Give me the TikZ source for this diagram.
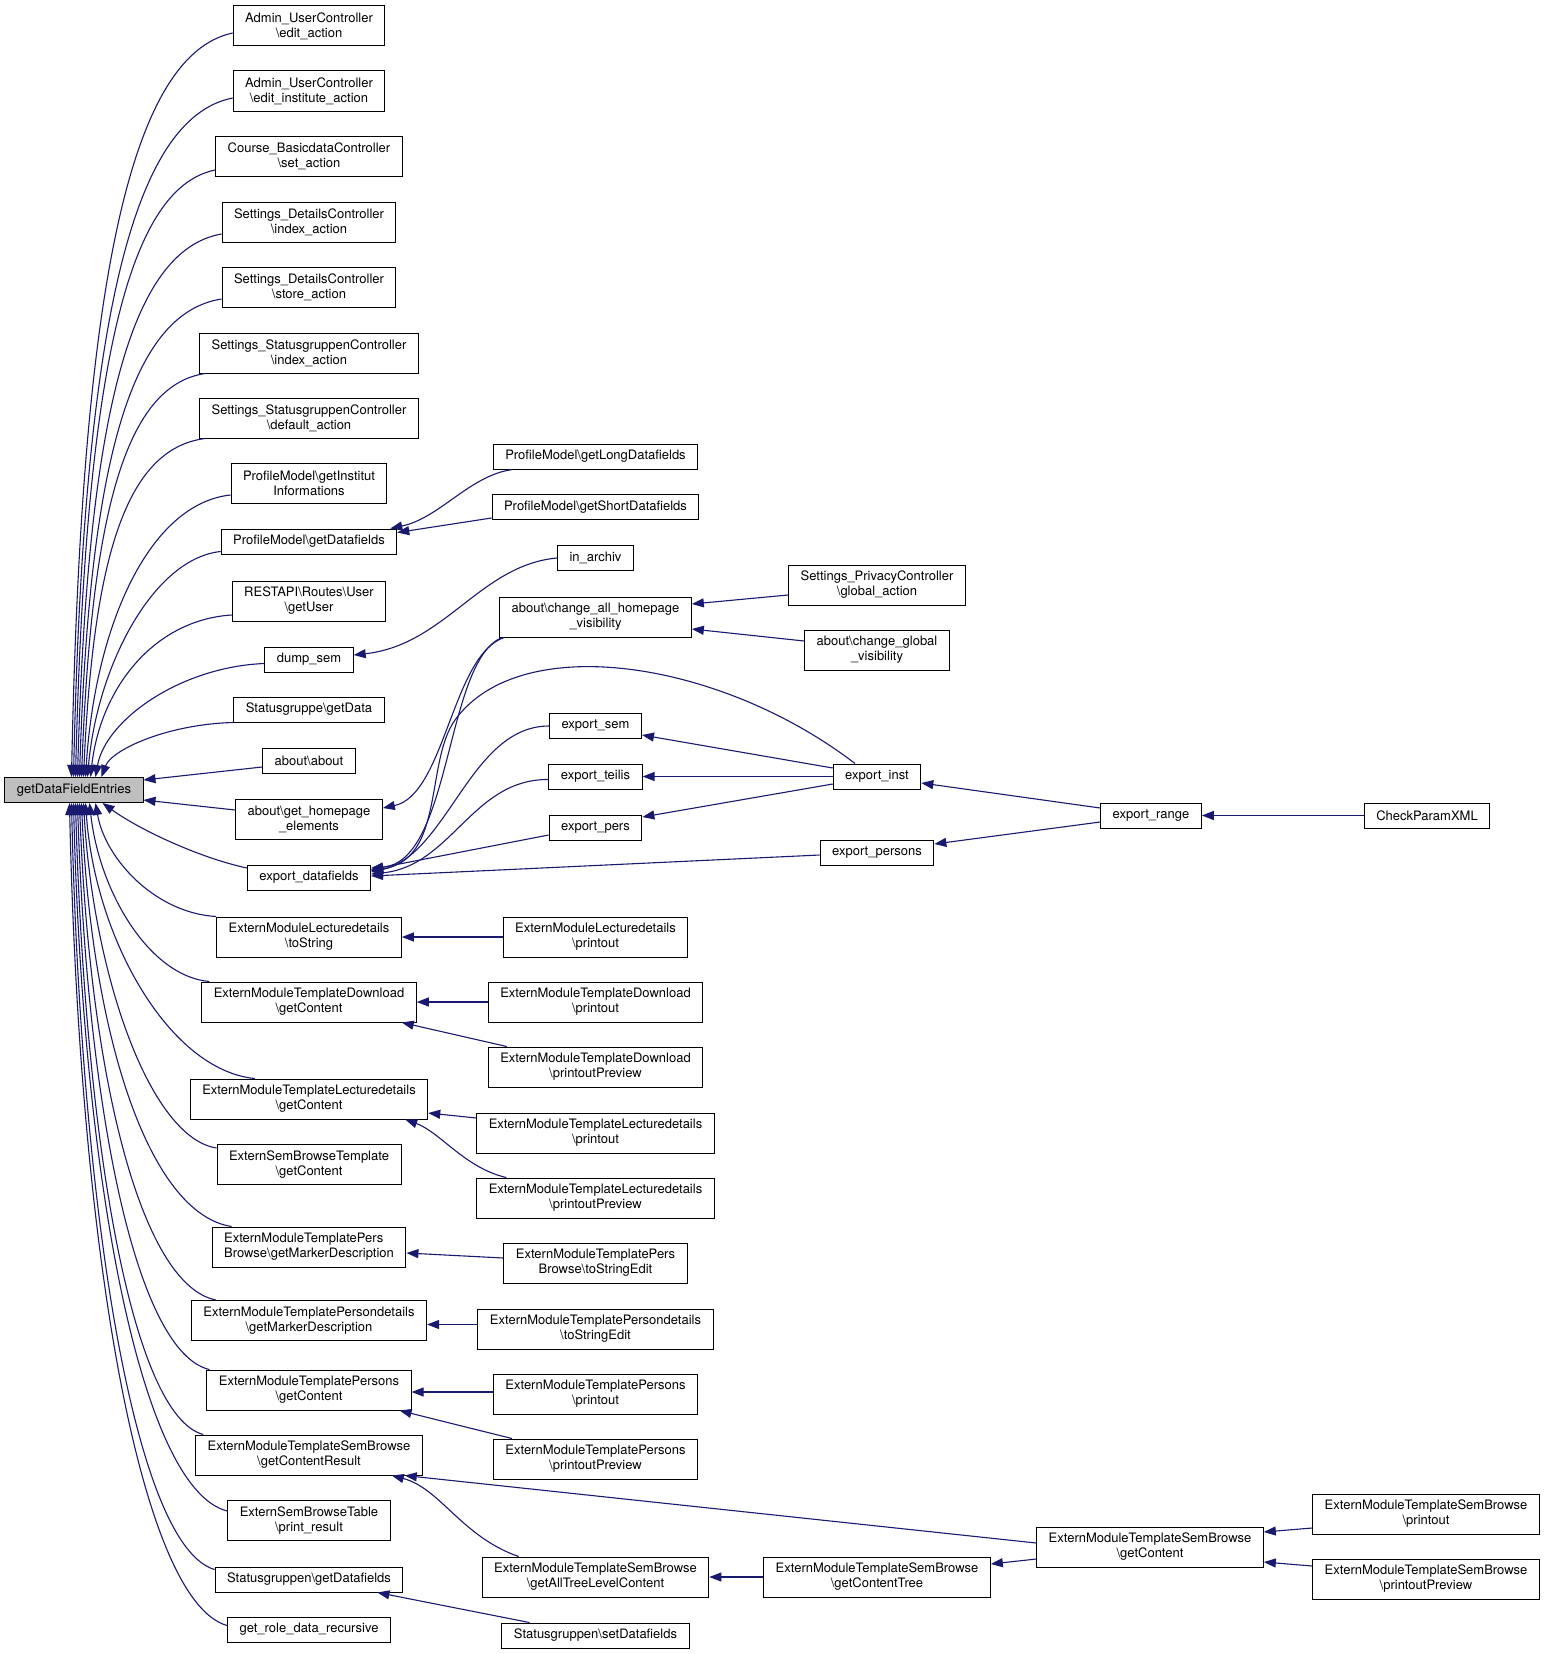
\documentclass[tikz,border=0pt]{standalone}
\usepackage{fontspec}
\setmainfont{TeX Gyre Heros}
\usetikzlibrary{arrows.meta, calc}
\definecolor{midnight}{HTML}{191970}
\definecolor{nodegray}{HTML}{BFBFBF}

\begin{document}
\begin{tikzpicture}[
                    x=1pt, y=-1pt,
                    box/.style={draw=black, line width=1pt, fill=white, inner xsep=12pt, inner ysep=1pt,
                                minimum height=25pt, align=center, font=\fontsize{13}{15}\selectfont},
                    box2/.style={box, minimum height=40pt},
                    call/.style={draw=midnight, line width=1.1pt, -{Triangle[length=12pt,width=9pt]}},
                    fan/.style={to path={let \p1=(\tikztostart), \p2=(\tikztotarget) in
                        .. controls ({\x2+#1*(\x1-\x2)},{\y1+0.03*(\y2-\y1)})
                        and ({\x2+10pt},{\y1+#1*(\y2-\y1)}) .. (\tikztotarget) \tikztonodes}},
                    fan/.default=0.35
                ]
                  \fill[white] (0,0) rectangle (1543,1654);

                  \node[box, fill=nodegray] (gdfe) at (74,790) {getDataFieldEntries};

                  \node[box2] (admA) at (309,26) {Admin\_UserController\\\textbackslash edit\_action};
                  \node[box2] (admB) at (309,91) {Admin\_UserController\\\textbackslash edit\_institute\_action};
                  \node[box2] (course) at (309,156) {Course\_BasicdataController\\\textbackslash set\_action};
                  \node[box2] (detIdx) at (309,222) {Settings\_DetailsController\\\textbackslash index\_action};
                  \node[box2] (detStore) at (309,287) {Settings\_DetailsController\\\textbackslash store\_action};
                  \node[box2] (sgIdx) at (309,353) {Settings\_StatusgruppenController\\\textbackslash index\_action};
                  \node[box2] (sgDef) at (309,418) {Settings\_StatusgruppenController\\\textbackslash default\_action};
                  \node[box2] (pmInst) at (309,483) {ProfileModel\textbackslash getInstitut\\Informations};
                  \node[box] (pmData) at (309,541.5) {ProfileModel\textbackslash getDatafields};
                  \node[box2] (rest) at (309,601) {RESTAPI\textbackslash Routes\textbackslash User\\\textbackslash getUser};
                  \node[box] (dump) at (309,659.5) {dump\_sem};
                  \node[box] (sgData) at (309,709.5) {Statusgruppe\textbackslash getData};
                  \node[box] (about) at (309,760.5) {about\textbackslash about};
                  \node[box2] (gh) at (309,819) {about\textbackslash get\_homepage\\\_elements};
                  \node[box] (edf) at (309,877.5) {export\_datafields};
                  \node[box2] (toString) at (309,937) {ExternModuleLecturedetails\\\textbackslash toString};
                  \node[box2] (dlGet) at (309,1002) {ExternModuleTemplateDownload\\\textbackslash getContent};
                  \node[box2] (lecGet) at (309,1099) {ExternModuleTemplateLecturedetails\\\textbackslash getContent};
                  \node[box2] (sbtGet) at (309,1164.5) {ExternSemBrowseTemplate\\\textbackslash getContent};
                  \node[box2, align=left] (pbMarker) at (309,1247) {ExternModuleTemplatePers\\Browse\textbackslash getMarkerDescription};
                  \node[box2] (pdMarker) at (309,1320.5) {ExternModuleTemplatePersondetails\\\textbackslash getMarkerDescription};
                  \node[box2] (persGet) at (309,1390) {ExternModuleTemplatePersons\\\textbackslash getContent};
                  \node[box2] (sbResult) at (309,1455) {ExternModuleTemplateSemBrowse\\\textbackslash getContentResult};
                  \node[box2] (sbtPrint) at (309,1520.5) {ExternSemBrowseTable\\\textbackslash print\_result};
                  \node[box] (sgGetDf) at (309,1579.5) {Statusgruppen\textbackslash getDatafields};
                  \node[box] (role) at (309,1629.5) {get\_role\_data\_recursive};

                  \node[box] (pmLong) at (595.5,456.5) {ProfileModel\textbackslash getLongDatafields};
                  \node[box] (pmShort) at (595.5,507) {ProfileModel\textbackslash getShortDatafields};
                  \node[box] (inArch) at (595.5,558) {in\_archiv};
                  \node[box2] (changeAll) at (595.5,617) {about\textbackslash change\_all\_homepage\\\_visibility};
                  \node[box] (eSem) at (595.5,726) {export\_sem};
                  \node[box] (eTeilis) at (595.5,776.5) {export\_teilis};
                  \node[box] (ePers) at (595.5,827.5) {export\_pers};
                  \node[box2] (lecPrint) at (595.5,937) {ExternModuleLecturedetails\\\textbackslash printout};
                  \node[box2] (dlPrint) at (595.5,1002) {ExternModuleTemplateDownload\\\textbackslash printout};
                  \node[box2] (dlPreview) at (595.5,1067) {ExternModuleTemplateDownload\\\textbackslash printoutPreview};
                  \node[box2] (lecTPrint) at (595.5,1133) {ExternModuleTemplateLecturedetails\\\textbackslash printout};
                  \node[box2] (lecTPreview) at (595.5,1198) {ExternModuleTemplateLecturedetails\\\textbackslash printoutPreview};
                  \node[box2] (pbEdit) at (595.5,1263) {ExternModuleTemplatePers\\Browse\textbackslash toStringEdit};
                  \node[box2] (pdEdit) at (595.5,1329) {ExternModuleTemplatePersondetails\\\textbackslash toStringEdit};
                  \node[box2] (persPrint) at (595.5,1394) {ExternModuleTemplatePersons\\\textbackslash printout};
                  \node[box2] (persPreview) at (595.5,1459) {ExternModuleTemplatePersons\\\textbackslash printoutPreview};
                  \node[box2] (allTree) at (595.5,1577) {ExternModuleTemplateSemBrowse\\\textbackslash getAllTreeLevelContent};
                  \node[box] (sgSet) at (595.5,1635.5) {Statusgruppen\textbackslash setDatafields};

                  \node[box2] (privacy) at (877,585) {Settings\_PrivacyController\\\textbackslash global\_action};
                  \node[box2] (changeGlobal) at (877,650) {about\textbackslash change\_global\\\_visibility};
                  \node[box] (eInst) at (877,776.5) {export\_inst};
                  \node[box] (ePersons) at (877,852.5) {export\_persons};
                  \node[box2] (contentTree) at (877,1577) {ExternModuleTemplateSemBrowse\\\textbackslash getContentTree};

                  \node[box] (eRange) at (1151,815.5) {export\_range};
                  \node[box2] (sbGet) at (1150,1547) {ExternModuleTemplateSemBrowse\\\textbackslash getContent};

                  \node[box] (checkXML) at (1427,815.5) {CheckParamXML};
                  \node[box2] (sbPrint) at (1426,1514) {ExternModuleTemplateSemBrowse\\\textbackslash printout};
                  \node[box2] (sbPreview) at (1426,1579) {ExternModuleTemplateSemBrowse\\\textbackslash printoutPreview};

                  \draw[call] ([yshift=-7pt]admA.west) to[fan] ([xshift=67pt]gdfe.north west);
                  \draw[call] ([yshift=-7pt]admB.west) to[fan] ([xshift=69pt]gdfe.north west);
                  \draw[call] ([yshift=-14pt]course.west) to[fan] ([xshift=71pt]gdfe.north west);
                  \draw[call] ([yshift=-12pt]detIdx.west) to[fan] ([xshift=73pt]gdfe.north west);
                  \draw[call] ([yshift=-12pt]detStore.west) to[fan] ([xshift=75pt]gdfe.north west);
                  \draw[call] ([xshift=6pt]sgIdx.south west) to[fan] ([xshift=77pt]gdfe.north west);
                  \draw[call] ([xshift=6pt]sgDef.south west) to[fan] ([xshift=79pt]gdfe.north west);
                  \draw[call] ([yshift=-12pt]pmInst.west) to[fan=0.45] ([xshift=81pt]gdfe.north west);
                  \draw[call] ([yshift=-10pt]pmData.west) to[fan=0.5] ([xshift=83pt]gdfe.north west);
                  \draw[call] ([yshift=-14pt]rest.west) to[fan=0.45] ([xshift=86pt]gdfe.north west);
                  \draw[call] ([yshift=-4pt]dump.west) to[fan=0.5] ([xshift=91pt]gdfe.north west);
                  \draw[call] (sgData.south west) to[fan=0.5] ([xshift=97pt]gdfe.north west);
                  \draw[call] ([yshift=-6.5pt]about.west) -- ([yshift=10pt]gdfe.east);
                  \draw[call] ([yshift=9pt]gh.west) -- ([yshift=-10pt]gdfe.east);
                  \draw[call] ([yshift=9.5pt]edf.west) .. controls (200,858) and (140,830) .. ([xshift=98pt]gdfe.south west);
                  \draw[call] (toString.north west) to[fan=0.5] ([xshift=91pt]gdfe.south west);
                  \draw[call] ([xshift=8pt]dlGet.north west) to[fan=0.5] ([xshift=85pt]gdfe.south west);
                  \draw[call] ([xshift=65pt]lecGet.north west) to[fan=0.5] ([xshift=81pt]gdfe.south west);
                  \draw[call] ([yshift=-4pt]sbtGet.north west) to[fan=0.5] ([xshift=79pt]gdfe.south west);
                  \draw[call] ([xshift=20pt]pbMarker.north west) to[fan=0.45] ([xshift=77pt]gdfe.south west);
                  \draw[call] ([xshift=25pt]pdMarker.north west) to[fan=0.45] ([xshift=75pt]gdfe.south west);
                  \draw[call] ([xshift=3pt]persGet.north west) to[fan=0.45] ([xshift=73pt]gdfe.south west);
                  \draw[call] ([xshift=8pt]sbResult.north west) to[fan=0.45] ([xshift=71pt]gdfe.south west);
                  \draw[call] ([yshift=-11pt]sbtPrint.north west) to[fan=0.45] ([xshift=69pt]gdfe.south west);
                  \draw[call] ([yshift=-3pt]sgGetDf.north west) to[fan=0.45] ([xshift=67pt]gdfe.south west);
                  \draw[call] ([yshift=-9pt]role.north west) to[fan=0.45] ([xshift=65pt]gdfe.south west);

                  \draw[call] ([xshift=20pt]pmLong.south west) .. controls (470,475) and (440,518) .. ([xshift=-7pt]pmData.north east);
                  \draw[call] ([yshift=-11pt]pmShort.west) -- ([yshift=9pt]pmData.east);
                  \draw[call] (inArch.west) .. controls (480,565) and (445,645) .. ([yshift=4.5pt]dump.east);
                  \draw[call] ([xshift=5pt]changeAll.south west) .. controls (452,655) and (445,795) .. ([yshift=11pt]gh.east);
                  \draw[call] ([xshift=3pt]changeAll.south west) .. controls (445,660) and (452,862) .. ([yshift=9.5pt]edf.east);
                  \draw[call] ([xshift=-22pt]eInst.north) .. controls (720,660) and (520,630) .. (455,720)
                                .. controls (425,762) and (445,860) .. ([yshift=7pt]edf.east);
                  \draw[call] (eSem.west) .. controls (470,726) and (448,855) .. ([yshift=5.5pt]edf.east);
                  \draw[call] ([yshift=-3pt]eTeilis.west) .. controls (472,779) and (452,866) .. ([yshift=3.5pt]edf.east);
                  \draw[call] ([yshift=-7.5pt]ePers.west) -- ([yshift=8pt]edf.east);
                  \draw[call] ([yshift=-2.5pt]ePersons.west) -- ([yshift=1.5pt]edf.east);

                  \draw[call] ([yshift=-10pt]privacy.west) -- ([yshift=13pt]changeAll.east);
                  \draw[call] ([yshift=9pt]changeGlobal.west) -- ([yshift=-12pt]changeAll.east);
                  \draw[call] ([yshift=8.5pt]eInst.west) -- ([yshift=-9pt]eSem.east);
                  \draw[call] (eInst.west) -- (eTeilis.east);
                  \draw[call] ([yshift=-7.5pt]eInst.west) -- ([yshift=10.5pt]ePers.east);
                  \draw[call] ([yshift=7.5pt]eRange.west) -- ([yshift=-6.5pt]eInst.east);
                  \draw[call] ([yshift=-6.5pt]eRange.west) -- ([yshift=8.5pt]ePersons.east);
                  \draw[call] (checkXML.west) -- (eRange.east);

                  \draw[call] (lecPrint.west) -- (toString.east);
                  \draw[call] (dlPrint.west) -- (dlGet.east);
                  \draw[call] ([xshift=19pt]dlPreview.north west) -- ([xshift=-15pt]dlGet.south east);
                  \draw[call] ([yshift=15pt]lecTPrint.west) -- ([yshift=-14pt]lecGet.east);
                  \draw[call] ([xshift=30pt]lecTPreview.north west) .. controls (465,1168) and (440,1132) .. ([xshift=-23pt]lecGet.south east);
                  \draw[call] ([yshift=5pt]pbEdit.west) -- ([yshift=-6pt]pbMarker.east);
                  \draw[call] ([yshift=4.5pt]pdEdit.west) -- ([yshift=-4pt]pdMarker.east);
                  \draw[call] ([yshift=2pt]persPrint.west) -- ([yshift=-2pt]persGet.east);
                  \draw[call] ([xshift=19pt]persPreview.north west) -- ([xshift=-12pt]persGet.south east);
                  \draw[call] ([yshift=4pt]sbGet.west) -- ([xshift=-18pt]sbResult.south east);
                  \draw[call] ([xshift=37pt]allTree.north west) .. controls (462,1537) and (440,1488) .. ([xshift=-31pt]sbResult.south east);
                  \draw[call] (contentTree.west) -- (allTree.east);
                  \draw[call] ([yshift=-12pt]sbGet.west) -- ([yshift=13pt]contentTree.east);
                  \draw[call] ([yshift=-14pt]sbPrint.west) -- ([yshift=15pt]sbGet.east);
                  \draw[call] ([yshift=13pt]sbPreview.west) -- ([yshift=-15pt]sbGet.east);
                  \draw[call] ([xshift=28pt]sgSet.north west) -- ([xshift=-26pt]sgGetDf.south east);
                \end{tikzpicture}
\end{document}
